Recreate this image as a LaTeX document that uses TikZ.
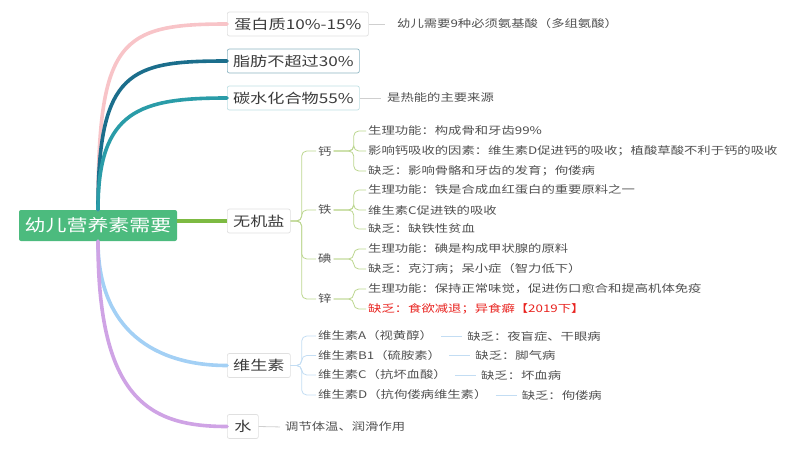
\documentclass[tikz,border=0pt]{standalone}
\usepackage{fontspec}
\setmainfont{Noto Sans CJK SC}[FakeStretch=1.27]
\usetikzlibrary{positioning}
\definecolor{txt}{HTML}{3C3C3C}
\definecolor{txttwo}{HTML}{505050}
\definecolor{rootgreen}{HTML}{4CBB7E}
\definecolor{pinkc}{HTML}{F8C4C8}
\definecolor{darkteal}{HTML}{1B6E8C}
\definecolor{tealc}{HTML}{2A9CA8}
\definecolor{greenc}{HTML}{7DBA42}
\definecolor{lblue}{HTML}{A3D0F5}
\definecolor{lav}{HTML}{CFA3E5}
\definecolor{gbracec}{HTML}{BCD68F}
\definecolor{bbracec}{HTML}{C3DDF3}
\definecolor{grayline}{HTML}{CFCFCF}
\definecolor{boxgray}{HTML}{E0E0E0}
\definecolor{fatborder}{HTML}{8DB5C2}
\definecolor{carbborder}{HTML}{BEDFE3}
\definecolor{redc}{HTML}{E8231F}
\begin{document}
\begin{tikzpicture}[x=1pt,y=-1pt,
  rootbox/.style={fill=rootgreen, rounded corners=2pt, text=white,
    font=\fontsize{16.5}{19}\selectfont, minimum width=158pt, minimum height=31pt, inner sep=0pt},
  primary/.style={draw=boxgray, line width=0.7pt, fill=white, rounded corners=2pt,
    minimum height=24pt, inner xsep=5pt, inner ysep=0pt,
    font=\fontsize{13.5}{16}\selectfont, text=txt, anchor=west},
  leaf/.style={font=\fontsize{10.5}{12}\selectfont, text=txttwo, inner xsep=2pt, inner ysep=1pt, anchor=west},
  branch/.style={line width=3.6pt, line cap=round},
  gbrace/.style={draw=gbracec, line width=0.8pt, rounded corners=5pt},
  bbrace/.style={draw=bbracec, line width=0.8pt, rounded corners=5pt},
  gline/.style={draw=grayline, line width=0.8pt},
  bline/.style={draw=bbracec, line width=0.9pt},
]
\useasboundingbox (0,0) rectangle (800,450);

% root
\node[rootbox] (root) at (98,225.5) {幼儿营养素需要};

% primary nodes
\node[primary, minimum width=141pt] (prot) at (227,24) {蛋白质10\%-15\%};
\node[primary, draw=fatborder, minimum width=132pt] (fat) at (227,61) {脂肪不超过30\%};
\node[primary, draw=carbborder, minimum width=132pt] (carb) at (227,98) {碳水化合物55\%};
\node[primary, minimum width=63pt] (inorg) at (227,221) {无机盐};
\node[primary, minimum width=63pt] (vit) at (227,365.5) {维生素};
\node[primary, minimum width=31pt] (water) at (227,426.5) {水};

% main branches
\draw[branch, pinkc] (root.north) .. controls +(0,-170) and +(-107,0) .. (prot.west);
\draw[branch, darkteal] (root.north) .. controls +(0,-140) and +(-97,0) .. (fat.west);
\draw[branch, tealc] (root.north) .. controls +(0,-100) and +(-87,0) .. (carb.west);
\draw[branch, greenc, line cap=butt] (root.east |- inorg.west) -- (inorg.west);
\draw[branch, lblue] (root.south) .. controls +(0,89) and +(-72,0) .. (vit.west);
\draw[branch, lav] (root.south) .. controls +(0,159) and +(-77,0) .. (water.west);

% protein / carbs / water leaves
\node[leaf] (prot1) at (395,24) {幼儿需要9种必须氨基酸（多组氨酸）};
\draw[gline, shorten >=10pt] (prot.east) -- (prot1.west);
\node[leaf] (carb1) at (385,98) {是热能的主要来源};
\draw[gline, shorten >=4pt] (carb.east) -- (carb1.west);
\node[leaf] (water1) at (283,427) {调节体温、润滑作用};
\draw[gline, shorten >=3pt] (water.east) -- (water1.west);

% inorganic salts
\node[leaf] (ca) at (316,151) {钙};
\node[leaf] (fe) at (316,210) {铁};
\node[leaf] (iod) at (316,259) {碘};
\node[leaf] (zn) at (316,299) {锌};
\foreach \n in {ca,fe,iod,zn}
  \draw[gbrace] (inorg.east) -- ++(11,0) |- (\n.west);

\node[leaf] (ca1) at (366,131) {生理功能：构成骨和牙齿99\%};
\node[leaf] (ca2) at (366,151) {影响钙吸收的因素：维生素D促进钙的吸收；植酸草酸不利于钙的吸收};
\node[leaf] (ca3) at (366,171) {缺乏：影响骨骼和牙齿的发育；佝偻病};
\node[leaf] (fe1) at (366,190) {生理功能：铁是合成血红蛋白的重要原料之一};
\node[leaf] (fe2) at (366,210) {维生素C促进铁的吸收};
\node[leaf] (fe3) at (366,229) {缺乏：缺铁性贫血};
\node[leaf] (iod1) at (366,249) {生理功能：碘是构成甲状腺的原料};
\node[leaf] (iod2) at (366,269) {缺乏：克汀病；呆小症（智力低下）};
\node[leaf] (zn1) at (366,289) {生理功能：保持正常味觉，促进伤口愈合和提高机体免疫};
\node[leaf, text=redc] (zn2) at (366,309) {缺乏：食欲减退；异食癖【2019下】};

\foreach \p/\c in {ca/ca1,ca/ca2,ca/ca3,fe/fe1,fe/fe2,fe/fe3,iod/iod1,iod/iod2,zn/zn1,zn/zn2}
  \draw[gbrace] (\p.east) -- ++(20,0) |- (\c.west);

% vitamins
\node[leaf] (va) at (316,336) {维生素A（视黄醇）};
\node[leaf] (vb) at (316,355.5) {维生素B1（硫胺素）};
\node[leaf] (vc) at (316,375) {维生素C（抗坏血酸）};
\node[leaf] (vd) at (316,395) {维生素D（抗佝偻病维生素）};
\foreach \n in {va,vb,vc,vd}
  \draw[bbrace] (vit.east) -- ++(11,0) |- (\n.west);

\node[leaf, right=30pt of va] (da) {缺乏：夜盲症、干眼病};
\node[leaf, right=30pt of vb] (db) {缺乏：脚气病};
\node[leaf, right=30pt of vc] (dc) {缺乏：坏血病};
\node[leaf, right=30pt of vd] (dd) {缺乏：佝偻病};
\foreach \a/\b in {va/da,vb/db,vc/dc,vd/dd}
  \draw[bline, shorten <=6pt, shorten >=3pt] (\a.east) -- (\b.west);
\end{tikzpicture}
\end{document}
